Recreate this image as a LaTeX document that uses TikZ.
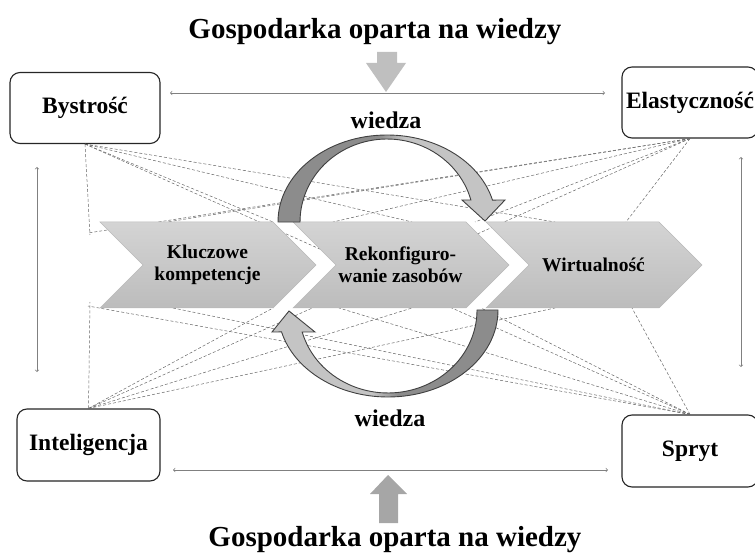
\documentclass[tikz,border=0pt]{standalone}
\usepackage{fontspec}
\setmainfont{Liberation Serif}
\usetikzlibrary{arrows}

\definecolor{chevtop}{RGB}{212,212,212}
\definecolor{chevbot}{RGB}{188,188,188}
\definecolor{bandDark}{RGB}{140,140,140}
\definecolor{bandLight}{RGB}{196,196,196}
\definecolor{blockLight}{RGB}{191,191,191}
\definecolor{blockDark}{RGB}{166,166,166}
\pgfdeclarehorizontalshading{tailleft}{100bp}{color(0bp)=(bandDark); color(47bp)=(bandDark); color(53bp)=(bandLight); color(100bp)=(bandLight)}
\pgfdeclarehorizontalshading{tailright}{100bp}{color(0bp)=(bandLight); color(47bp)=(bandLight); color(53bp)=(bandDark); color(100bp)=(bandDark)}

\tikzset{
  title/.style={font=\fontsize{29}{32}\selectfont\bfseries, inner sep=0pt},
  trait/.style={draw=black!85, line width=1.1pt, rounded corners=10pt, fill=white,
    minimum width=150pt, minimum height=71pt, font=\fontsize{23.5}{26}\selectfont\bfseries},
  chev/.style={top color=chevtop, bottom color=chevbot, draw=gray!55, line width=0.5pt},
  chevtext/.style={align=center, font=\fontsize{19.5}{22}\selectfont\bfseries, inner sep=0pt},
  band/.style={draw=black!75, line width=0.9pt},
  web/.style={densely dashed, black!60, line width=0.5pt},
  span/.style={<->, black!50, line width=0.7pt},
}

\begin{document}
\begin{tikzpicture}[x=1pt,y=-1pt]
\useasboundingbox (0,0) rectangle (755,553);

% titles
\node[title, anchor=base] (gtop) at (375,39) {Gospodarka oparta na wiedzy};
\node[title, anchor=base] (gbot) at (395,546) {Gospodarka oparta na wiedzy};

% four traits
\node[trait] (bys) at (85,108) {Bystrość};
\node[trait, minimum width=136pt] (ela) at (690,102.5) {Elastyczność};
\node[trait, minimum width=143pt, minimum height=72pt] (intel) at (88.5,445) {Inteligencja};
\node[trait, minimum width=136pt, minimum height=72pt] (spr) at (690,451) {Spryt};

% dashed web
\coordinate (ptl) at (90,235);
\coordinate (pbl) at (90,302);
\draw[web] (bys.south) -- (ptl);
\draw[web] (ela.south) -- (88,233);
\draw[web] (intel.north) -- (pbl);
\draw[web] (spr.north) -- (88,306);
\draw[web] (bys.south) -- (spr.north);
\draw[web] (ela.south) -- (intel.north);
\foreach \x in {273,412,555} {
  \draw[web] (bys.south) -- (\x,222);
  \draw[web] (intel.north) -- (\x,308);
}
\foreach \x in {167,333,475,626} {
  \draw[web] (ela.south) -- (\x,222);
  \draw[web] (spr.north) -- (\x+6,308);
}

% chevrons
\draw[chev] (100,222) -- (273,222) -- (316,265) -- (273,308) -- (100,308) -- (143,265) -- cycle;
\draw[chev] (293,222) -- (466,222) -- (509,265) -- (466,308) -- (293,308) -- (336,265) -- cycle;
\draw[chev] (486,222) -- (659,222) -- (702,265) -- (659,308) -- (486,308) -- (529,265) -- cycle;
\node[chevtext] (kk) at (207.5,265) {Kluczowe\\kompetencje};
\node[chevtext] (rz) at (400.5,265) {Rekonfiguro-\\wanie zasobów};
\node[chevtext] (wv) at (593.5,265) {Wirtualność};

% curved arrows
\draw[band, shading=tailleft] (278,222) arc[start angle=180, end angle=345.4, x radius=109, y radius=87]
  -- (505,200) -- (485,221) -- (462,200) -- (470.9,200)
  arc[start angle=344.6, end angle=180, x radius=87, y radius=83] -- cycle;
\draw[band, shading=tailright] (498,310) arc[start angle=0, end angle=165.4, x radius=110, y radius=87]
  -- (272,332) -- (289,311) -- (315,332) -- (302.2,332)
  arc[start angle=164.6, end angle=0, x radius=89, y radius=83] -- cycle;
\node[title, font=\fontsize{24}{26}\selectfont\bfseries, anchor=base] (wtop) at (386,129) {wiedza};
\node[title, font=\fontsize{24}{26}\selectfont\bfseries, anchor=base] (wbot) at (390,426) {wiedza};

% block arrows
\fill[blockLight] (377,52) -- (397,52) -- (397,63) -- (406,63) -- (386,92) -- (366,63) -- (377,63) -- cycle;
\fill[blockDark] (379,523) -- (398,523) -- (398,494) -- (407,494) -- (388,475) -- (370,494) -- (379,494) -- cycle;

% double arrows
\coordinate (ht1) at (170,93); \coordinate (ht2) at (605,93);
\coordinate (hb1) at (173,470); \coordinate (hb2) at (608,470);
\coordinate (vl1) at (37,167); \coordinate (vl2) at (37,372);
\coordinate (vr1) at (741,157); \coordinate (vr2) at (741,367);
\draw[span] (ht1) -- (ht2);
\draw[span] (hb1) -- (hb2);
\draw[span] (vl1) -- (vl2);
\draw[span] (vr1) -- (vr2);
\end{tikzpicture}
\end{document}
